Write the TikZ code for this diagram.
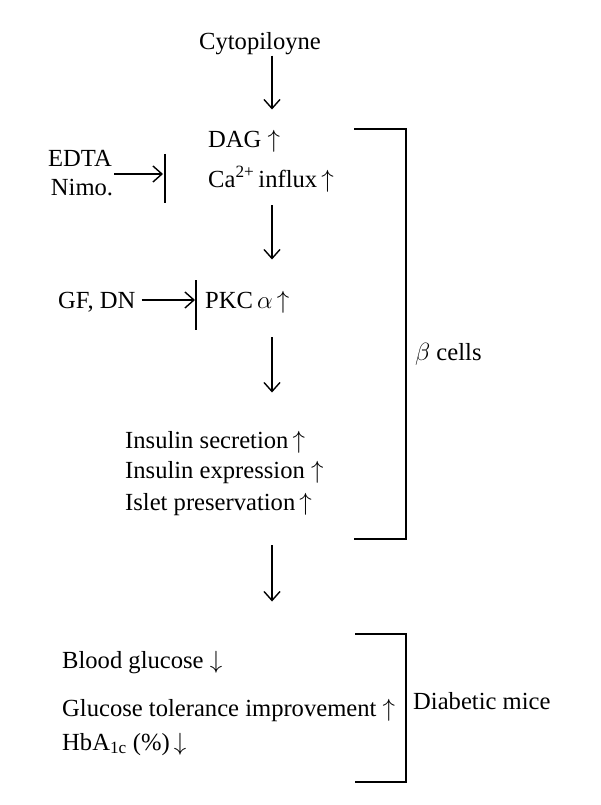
\documentclass[tikz,border=0pt]{standalone}
\usepackage{fontspec}
\setmainfont{Liberation Serif}
\usetikzlibrary{arrows.meta}
\begin{document}
	\begin{tikzpicture}[x=1pt,y=-1pt]
		\tikzset{label/.style = {inner sep=0pt,font=\fontsize{24.6}{29}\selectfont}}
		\tikzset{item/.style = {label,anchor=base west}}
		\tikzset{edge/.style = {line width=1.4pt,-{Straight Barb[length=9pt,width=16pt,line width=1.4pt]}}}
		\tikzset{block/.style = {line width=1.4pt}}
		\useasboundingbox (0,0) rectangle (600,805);
		\coordinate (col) at (272,0);
		\node[label,anchor=base] (cyto) at (260,50) {Cytopiloyne};
		\node[item] (dag) at (208,148) {DAG $\uparrow$};
		\node[item] (ca) at (208,187) {Ca\textsuperscript{2+}\,influx\,$\uparrow$};
		\node[label,anchor=base] (edta) at (80,167) {EDTA};
		\node[label,anchor=base] (nimo) at (82,195) {Nimo.};
		\node[item] (gfdn) at (58,308) {GF, DN};
		\node[item] (pkc) at (205,308) {PKC\,$\alpha$\,$\uparrow$};
		\node[item] (ins1) at (125,448) {Insulin secretion\,$\uparrow$};
		\node[item] (ins2) at (125,478) {Insulin expression $\uparrow$};
		\node[item] (ins3) at (125,510) {Islet preservation\,$\uparrow$};
		\node[item] (beta) at (415,360) {$\beta$ cells};
		\node[item] (blood) at (62,668) {Blood glucose $\downarrow$};
		\node[item] (gtol) at (62,716) {Glucose tolerance improvement $\uparrow$};
		\node[item] (hba) at (62,750) {HbA\textsubscript{1c} (\%)\,$\downarrow$};
		\node[item] (mice) at (413,709) {Diabetic mice};
		\coordinate (stop1) at (165,174);
		\coordinate (stop2) at (196,300);
		% main chain
		\draw[edge,shorten >=21pt] (cyto.south -| col) -- (dag.north -| col);
		\draw[edge,shorten <=13pt,shorten >=31pt] (ca.south -| col) -- (pkc.north -| col);
		\draw[edge,shorten <=24pt,shorten >=38pt] (pkc.south -| col) -- (ins1.north -| col);
		\draw[edge,shorten <=30pt,shorten >=49pt] (ins3.south -| col) -- (blood.north -| col);
		% inhibitors
		\draw[edge,shorten <=1pt,shorten >=2pt] (nimo.east |- stop1) -- (stop1);
		\draw[block] (stop1) ++(0,-20) -- ++(0,49);
		\draw[edge,shorten <=6pt,shorten >=1pt] (gfdn.east |- stop2) -- (stop2);
		\draw[block] (stop2) ++(0,-20) -- ++(0,50);
		% brackets
		\draw[block] (354,129) -| (406,539) -- (354,539);
		\draw[block] (355,634) -| (406,782) -- (355,782);
	\end{tikzpicture}
\end{document}
